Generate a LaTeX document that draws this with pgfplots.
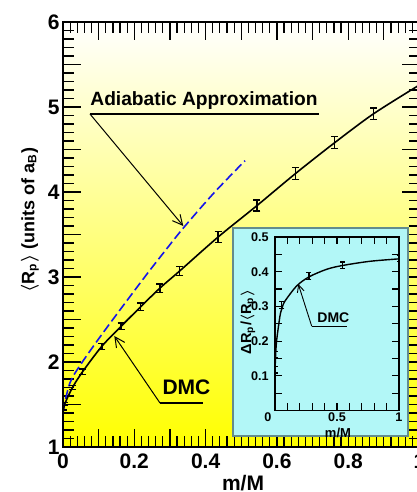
\documentclass[border=0pt]{standalone}
\usepackage{pgfplots}
\usepackage{pgfplotstable}
\pgfplotsset{compat=1.18}
\usepackage{fontspec}
\setmainfont{Liberation Sans}
\usetikzlibrary{arrows.meta}
\definecolor{insetbg}{RGB}{178,247,247}
\definecolor{insetframe}{RGB}{100,140,140}
\definecolor{adiab}{RGB}{20,20,235}

\pgfplotstableread{
x y e
0.0005 1.415 0.02
0.005 1.506 0.02
0.027 1.702 0.025
0.055 1.886 0.03
0.109 2.185 0.035
0.163 2.42 0.04
0.218 2.65 0.045
0.272 2.87 0.05
0.327 3.07 0.055
0.435 3.47 0.065
0.544 3.84 0.065
0.653 4.22 0.07
0.762 4.58 0.07
0.871 4.92 0.07
}\dmcmain

\pgfplotstableread{
x y
0 1.396
0.005 1.506
0.027 1.702
0.055 1.886
0.109 2.185
0.163 2.42
0.218 2.65
0.272 2.87
0.327 3.07
0.435 3.47
0.544 3.84
0.653 4.22
0.762 4.58
0.871 4.92
1.0 5.26
}\dmcline

\pgfplotstableread{
x y
0 1.415
0.019 1.75
0.052 1.986
0.118 2.376
0.227 2.988
0.286 3.306
0.3375 3.576
0.4236 3.99
0.5105 4.368
}\adiabline

\pgfplotstableread{
x y e
0.0005 0.117 0.009
0.005 0.161 0.009
0.055 0.303 0.01
0.274 0.388 0.01
0.546 0.419 0.009
1.0 0.438 0.009
}\insetpts

\pgfplotstableread{
x y
0.0005 0.113
0.005 0.16
0.014 0.204
0.04 0.272
0.055 0.293
0.08 0.315
0.175 0.359
0.274 0.385
0.417 0.407
0.546 0.418
0.766 0.43
1.0 0.437
}\insetline

\begin{document}
\begin{tikzpicture}
\path[use as bounding box] (0,0) rectangle (208.5pt,246pt);
\begin{axis}[
  at={(31.5pt,22.5pt)}, anchor=south west, scale only axis,
  width=178.25pt, height=212.5pt,
  xmin=0, xmax=1, ymin=1, ymax=6,
  xtick={0,0.2,0.4,0.6,0.8,1}, ytick={1,2,3,4,5,6},
  minor x tick num=9, minor y tick num=9,
  extra x ticks={0.1,0.3,0.5,0.7,0.9}, extra x tick labels={},
  extra y ticks={1.5,2.5,3.5,4.5,5.5}, extra y tick labels={},
  tick align=inside, major tick length=9pt, minor tick length=5.5pt,
  every tick/.style={black, line width=0.6pt},
  axis line style={line width=0.75pt},
  /pgf/number format/assume math mode=true,
  tick label style={font=\fontsize{10.5}{12}\selectfont\bfseries},
  yticklabel style={inner sep=1.5pt},
  axis background/.style={top color=white, bottom color=yellow},
  xlabel={m/M},
  ylabel={$\langle$R\textsubscript{p}$\rangle$ (units of a\textsubscript{B})},
  xlabel style={at={(axis description cs:0.505,-0.0847)}, anchor=center, font=\fontsize{10.5}{12}\selectfont\bfseries},
  ylabel style={at={(axis description cs:-0.0926,0.534)}, anchor=center, font=\fontsize{9}{11}\selectfont\bfseries\boldmath},
]
\addplot[adiab, line width=0.8pt, dash pattern=on 4.5pt off 2pt, smooth] table[x=x,y=y] {\adiabline};
\addplot[black, line width=0.8pt, smooth] table[x=x,y=y] {\dmcline};
\addplot[draw=none, mark=none, forget plot,
  error bars/.cd, y dir=both, y explicit, error mark=|,
  error bar style={draw=black, line width=0.7pt, solid},
  error mark options={draw=black, solid, mark size=1.75pt, line width=0.7pt}]
  table[x=x, y=y, y error=e] {\dmcmain};
% annotations
\node[anchor=base west, inner sep=0pt, font=\fontsize{9.6}{12}\selectfont\bfseries] at (axis cs:0.0757,5.015) {Adiabatic Approximation};
\draw[line width=0.75pt] (axis cs:0.0757,4.918) -- (axis cs:0.718,4.918);
\draw[line width=0.5pt, -{Straight Barb[length=5pt,width=5pt]}] (axis cs:0.0757,4.918) -- (axis cs:0.3375,3.60);
\node[anchor=base west, inner sep=0pt, font=\fontsize{10.5}{12}\selectfont\bfseries] at (axis cs:0.278,1.612) {DMC};
\draw[line width=0.75pt] (axis cs:0.272,1.518) -- (axis cs:0.393,1.518);
\draw[line width=0.5pt, -{Straight Barb[length=5pt,width=5pt]}] (axis cs:0.272,1.518) -- (axis cs:0.144,2.306);
\end{axis}
\fill[insetbg, draw=insetframe, line width=0.75pt] (116.5pt,28pt) rectangle (204pt,132pt);
\begin{axis}[
  at={(137.5pt,40.75pt)}, anchor=south west, scale only axis,
  width=62pt, height=86.75pt,
  xmin=0, xmax=1, ymin=0, ymax=0.5,
  xtick={0.1,0.2,0.3,0.4,0.5,0.6,0.7,0.8,0.9,1},
  xticklabels={,,,,0.5,,,,,1},
  extra x ticks={0}, extra x tick labels={0},
  extra x tick style={xticklabel style={xshift=-3.5pt}},
  ytick={0.05,0.1,0.15,0.2,0.25,0.3,0.35,0.4,0.45,0.5},
  yticklabels={,0.1,,0.2,,0.3,,0.4,,0.5},
  tick align=inside, major tick length=3.5pt,
  every tick/.style={black, line width=0.6pt},
  axis line style={line width=0.75pt},
  /pgf/number format/assume math mode=true,
  tick label style={font=\fontsize{6.3}{7}\selectfont\bfseries},
  yticklabel style={inner sep=1pt, xshift=-2pt},
  xticklabel style={inner sep=1pt},
  xlabel={m/M},
  ylabel={ΔR\textsubscript{p}/$\langle$R\textsubscript{p}$\rangle$},
  xlabel style={at={(axis description cs:0.508,-0.128)}, anchor=center, font=\fontsize{6.5}{7}\selectfont\bfseries},
  ylabel style={at={(axis description cs:-0.218,0.51)}, anchor=center, font=\fontsize{7.3}{8}\selectfont\bfseries\boldmath},
]
\addplot[black, line width=0.7pt, smooth] table[x=x,y=y] {\insetline};
\addplot[draw=none, mark=none, forget plot,
  error bars/.cd, y dir=both, y explicit, error mark=|,
  error bar style={draw=black, line width=0.6pt, solid},
  error mark options={draw=black, solid, mark size=1.25pt, line width=0.6pt}]
  table[x=x, y=y, y error=e] {\insetpts};
\node[anchor=base west, inner sep=0pt, font=\fontsize{7}{8}\selectfont\bfseries] at (axis cs:0.339,0.253) {DMC};
\draw[line width=0.6pt] (axis cs:0.296,0.243) -- (axis cs:0.578,0.243);
\draw[line width=0.45pt, -{Straight Barb[length=3.5pt,width=3.5pt]}] (axis cs:0.296,0.243) -- (axis cs:0.188,0.364);
\end{axis}
\end{tikzpicture}
\end{document}
